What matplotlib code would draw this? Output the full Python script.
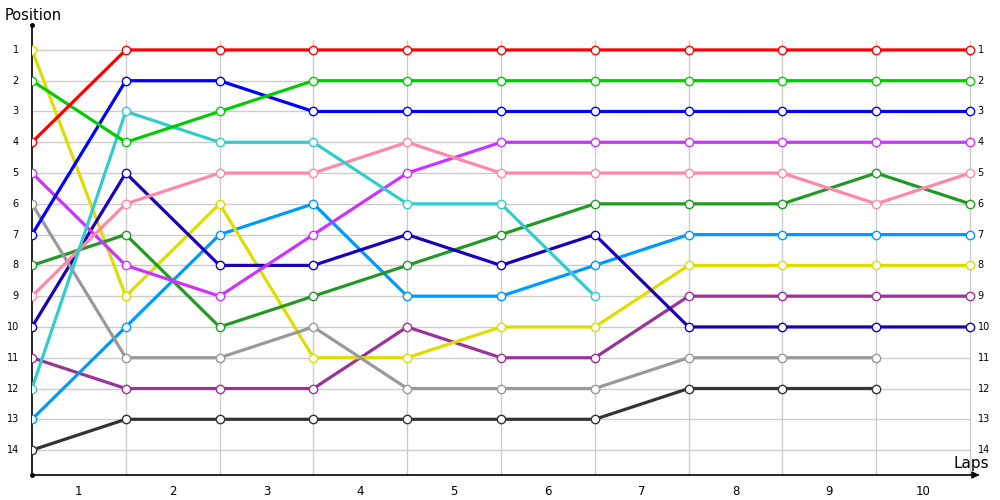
import numpy as np
import matplotlib.pyplot as plt

nan = np.nan

# position of every car after each lap (index 0 = start grid)
laps = np.arange(11)
red = [4, 1, 1, 1, 1, 1, 1, 1, 1, 1, 1]
green = [2, 4, 3, 2, 2, 2, 2, 2, 2, 2, 2]
blue = [7, 2, 2, 3, 3, 3, 3, 3, 3, 3, 3]
turquoise = [12, 3, 4, 4, 6, 6, 9, nan, nan, nan, nan]
pink = [9, 6, 5, 5, 4, 5, 5, 5, 5, 6, 5]
violet = [5, 8, 9, 7, 5, 4, 4, 4, 4, 4, 4]
gray = [6, 11, 11, 10, 12, 12, 12, 11, 11, 11, nan]
navy = [10, 5, 8, 8, 7, 8, 7, 10, 10, 10, 10]
darkgreen = [8, 7, 10, 9, 8, 7, 6, 6, 6, 5, 6]
yellow = [1, 9, 6, 11, 11, 10, 10, 8, 8, 8, 8]
lightblue = [13, 10, 7, 6, 9, 9, 8, 7, 7, 7, 7]
purple = [11, 12, 12, 12, 10, 11, 11, 9, 9, 9, 9]
darkgray = [14, 13, 13, 13, 13, 13, 13, 12, 12, 12, nan]

series = [
    (darkgray, '#333333'),
    (purple, '#993399'),
    (lightblue, '#0099ff'),
    (yellow, '#dddd00'),
    (darkgreen, '#229922'),
    (navy, '#1a00bb'),
    (gray, '#999999'),
    (violet, '#cc33ff'),
    (pink, '#ff88aa'),
    (turquoise, '#33cccc'),
    (blue, '#0000ff'),
    (green, '#00cc00'),
    (red, '#ff0000'),
]

positions = np.arange(1, 15)
lap_labels = [str(i) for i in range(1, 11)]

fig = plt.figure(figsize=(10, 5), dpi=100)
ax = fig.add_axes([0.032, 0.05, 0.946, 0.90])
ax.set_xlim(0, 10.085)
ax.set_ylim(14.81, 0.19)

# grid
ax.hlines(positions, 0, 10, color='#cccccc', lw=1, zorder=0)
ax.vlines(laps[1:], 14.81, 0.68, color='#cccccc', lw=1, zorder=0)

for vals, col in series:
    ax.plot(laps, vals, color=col, lw=2.3, marker='o', ms=6,
            mfc='white', mec=col, mew=1.0, zorder=3)

# axes look
for s in ['top', 'right']:
    ax.spines[s].set_visible(False)
ax.spines['left'].set_linewidth(1.2)
ax.spines['bottom'].set_linewidth(1.2)
ax.set_xticks([])
ax.set_yticks([])
ax.plot([0], [0.19], 'ko', ms=2.5, clip_on=False, zorder=5)
ax.plot([0], [14.81], 'ko', ms=2.5, clip_on=False, zorder=5)
ax.annotate('', xy=(10.13, 14.81), xytext=(10.0, 14.81),
            arrowprops=dict(arrowstyle='-|>', color='black', lw=1.2,
                            mutation_scale=10),
            annotation_clip=False)

for p in positions:
    ax.text(-0.14, p, str(p), ha='right', va='center', fontsize=7)
    ax.text(10.08, p, str(p), ha='left', va='center', fontsize=7)
for i, lab in enumerate(lap_labels):
    ax.text(i + 0.5, 15.35, lab, ha='center', va='center', fontsize=8.5)

fig.text(0.005, 0.97, 'Position', ha='left', va='center', fontsize=10.5)
ax.text(10.2, 14.45, 'Laps', ha='right', va='center', fontsize=11)

fig.savefig('out.png', dpi=100)
